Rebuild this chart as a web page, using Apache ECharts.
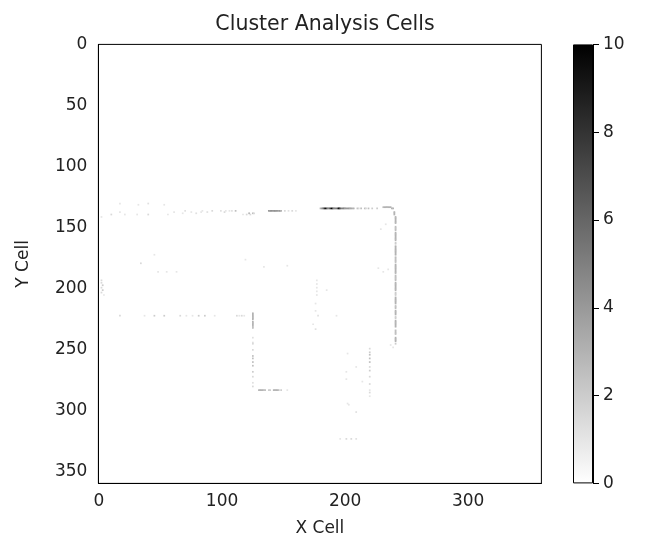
<!DOCTYPE html>
<html>
<head>
<meta charset="utf-8">
<script src="https://cdn.jsdelivr.net/npm/echarts@6/dist/echarts.min.js"></script>
<style>html,body{margin:0;padding:0;background:#fff;}#c{width:647px;height:544px;}</style>
</head>
<body>
<div id="c"></div>
<script>
// ---- data (cell column, cell row, value) ----
const nCells = 360;
const xTickLabels = [0, 100, 200, 300];
const yTickLabels = [0, 50, 100, 150, 200, 250, 300, 350];
const colorbarTicks = [0, 2, 4, 6, 8, 10];
const colorMin = 0, colorMax = 10;

const upperRowDots = [[17,130,1],[32,131,1],[40,130,1.2],[53,131,1]];
const leftRowDots = [[2,141,1],[10,139,1.5],[17,137,1],[21,139,1],[31,139,1],[40,139,1.5],[56,139,1],[61,137,1],[68,138,1],[70,136,1.2],[75,137,1],[79,138,1.2],[83,137,1],[84,136,1],[88,137,1.2],[92,136,1.5],[99,136,1.2],[102,137,1.5],[103,136,1],[106,136,1],[108,136,1.2],[111,136,2.5],[117,139,1],[120,139,1.5],[122,138,3],[123,139,1.5],[125,138,2.5],[126,138,1.5]];
const midSegment = [[138,136,4],[139,136,4],[140,136,4.5],[141,136,4],[142,136,4],[143,136,4.5],[144,136,4],[145,136,4],[146,136,3.5],[147,136,4],[148,136,3],[151,136,1.5],[154,136,1.2],[157,136,1.5],[160,136,1]];
const darkSegment = [[180,134,3],[181,134,4],[182,134,5],[183,134,7],[184,134,10],[185,134,7],[186,134,5],[187,134,5],[188,134,7],[189,134,10],[190,134,7],[191,134,5],[192,134,5],[193,134,5],[194,134,7],[195,134,10],[196,134,7],[197,134,5],[198,134,5],[199,134,5],[200,134,4],[201,134,4],[202,134,4],[203,134,4],[204,134,3.5],[205,134,3.5],[206,134,3],[207,134,3]];
const farSegment = [[210,134,2.5],[211,134,1.5],[213,134,2.5],[216,134,2.5],[217,134,1.5],[219,134,2.5],[222,134,2],[226,134,2],[231,133,2.5],[232,133,3],[233,133,3],[234,133,3],[235,133,3],[236,133,3],[237,133,3],[238,134,3],[239,134,3]];
const rightVertical = [[240,137,3],[240,138,3],[240,139,3],[241,141,3],[241,142,3],[241,143,3],[241,144,3],[241,145,3],[241,146,3],
  [241,149,2.5],[241,150,2.5],[241,151,2.5],[241,152,2.5],[241,154,3],[241,155,3],[241,156,3],[241,157,3],[241,158,3],[241,159,3],[241,160,3],
  [241,162,2],[241,163,2],[241,165,3],[241,166,3],[241,167,3],[241,168,3],[241,169,3],[241,170,3],[241,171,3],[241,172,3],
  [241,174,2.5],[241,175,2.5],[241,176,2.5],[241,177,2.5],[241,178,2.5],[241,180,3],[241,181,3],[241,182,3],[241,183,3],[241,184,3],[241,185,3],[241,186,3],[241,187,3],
  [241,189,2.5],[241,190,2.5],[241,191,2.5],[241,192,2.5],[241,193,2.5],[241,195,3],[241,196,3],[241,197,3],[241,198,3],[241,199,3],[241,200,3],[241,201,3],
  [241,203,2],[241,204,2],[241,205,2],[241,207,3],[241,208,3],[241,209,3],[241,210,3],[241,211,3],[241,212,3],[241,214,2.5],[241,215,2.5],[241,216,2.5],
  [241,218,3],[241,219,3],[241,220,3],[241,221,3],[241,223,2],[241,224,2],[241,226,3],[241,227,3],[241,228,3],[241,229,3],[241,230,3],[241,231,3],
  [241,234,2.5],[241,235,2.5],[241,236,2.5],[241,237,2.5],[241,240,3],[241,241,3],[241,242,3],[241,243,3],[241,245,2]];
const lowerRowDots = [[17,222,1.5],[37,222,1],[45,222,2],[53,222,2],[66,222,1.5],[71,222,1],[76,222,1],[81,222,2],[86,222,2],[94,222,1],[112,222,1.5],[114,222,1],[116,222,1.5],[118,222,1]];
const midVertical = [[125,220,3],[125,221,3],[125,222,3],[125,223,3],[125,224,3],[125,225,3],[125,227,3],[125,228,3],[125,229,3],[125,230,3],[125,231,2.5],[125,232,2.5],
  [125,240,1.2],[125,244,1.2],[125,245,1.5],[125,250,1.5],[125,255,2.5],[125,257,2.5],[125,260,2.5],[125,263,2.5],[125,268,2],[125,272,1.5],[125,277,1.2],[125,280,1.5]];
const bottomRow = [[130,283,3],[131,283,3],[132,283,3],[133,283,3],[134,283,2.5],[135,283,2.5],[138,283,2],[139,283,2],[142,283,3],[143,283,3],[144,283,3],[145,283,3],[146,283,2.5],[148,283,2],[153,283,1]];
const innerVertical = [[220,249,1.5],[220,252,2],[220,254,2.5],[220,257,2.5],[220,260,2.5],[220,264,1.5],[220,267,2],[220,272,1.5],[220,278,1.5],[220,283,1],[220,285,1.5],[220,288,1]];
const leftEdge = [[2,193,1.5],[2,195,1.5],[3,197,2],[2,199,1.5],[3,201,2],[2,203,1.5],[4,205,1]];
const scattered = [[177,193,1],[177,196,1],[177,199,1],[177,202,1],[177,205,1],[185,201,1],[176,212,1],[176,218,1],[178,222,1.2],[193,222,1],[174,229,1],[176,233,1.2],[202,253,1],[209,264,1],[201,268,1],[201,274,1],[214,276,1],[202,294,1],[203,295,1],[209,301,1.2],[196,323,1],[201,323,1.5],[205,323,1.5],[209,323,1.2],[34,179,1.5],[45,172,1],[48,186,1],[55,186,1],[63,186,1],[119,176,1],[134,182,1],[153,181,1],[229,151,1],[233,147,1],[227,183,1],[231,186,1],[235,184,1],[237,246,1],[239,248,1]];

// ---- build ----
const cells = [].concat(upperRowDots, leftRowDots, midSegment, darkSegment, farSegment, rightVertical,
  lowerRowDots, midVertical, bottomRow, innerVertical, leftEdge, scattered);
const cats = [];
for (let i = 0; i < nCells; i++) cats.push(String(i));
const xTickSet = new Set(xTickLabels.map(String));
const yTickSet = new Set(yTickLabels.map(String));

const font = 'DejaVu Sans';
const txt = '#222';
const fs = 17;
const chart = echarts.init(document.getElementById('c'), null, {renderer: 'canvas'});
chart.setOption({
  backgroundColor: '#fff',
  animation: false,
  title: {text: 'Cluster Analysis Cells', left: 320, top: 9, textAlign: 'center',
    textStyle: {fontFamily: font, fontSize: 20.5, fontWeight: 'normal', color: txt}},
  grid: [
    {left: 98.4, top: 44.4, width: 443, height: 439, show: true, borderColor: '#000', borderWidth: 1, backgroundColor: '#fff'},
    {left: 573, top: 44.4, width: 20, height: 439, show: false}
  ],
  xAxis: [
    {type: 'category', data: cats, gridIndex: 0, boundaryGap: true, position: 'bottom',
      name: 'X Cell', nameLocation: 'middle', nameGap: 37,
      nameTextStyle: {fontFamily: font, fontSize: fs, color: txt},
      axisLine: {lineStyle: {color: '#000'}},
      axisTick: {alignWithLabel: true, length: 6, interval: (i, v) => xTickSet.has(v), lineStyle: {color: '#000'}},
      axisLabel: {interval: (i, v) => xTickSet.has(v), margin: 10, fontFamily: font, fontSize: fs, color: txt},
      splitLine: {show: false}},
    {type: 'category', data: ['cb'], gridIndex: 1, show: false}
  ],
  yAxis: [
    {type: 'category', data: cats, gridIndex: 0, inverse: true, boundaryGap: true, position: 'left',
      name: 'Y Cell', nameLocation: 'middle', nameGap: 66, nameRotate: 90,
      nameTextStyle: {fontFamily: font, fontSize: fs, color: txt},
      axisLine: {lineStyle: {color: '#000'}},
      axisTick: {alignWithLabel: true, length: 6, interval: (i, v) => yTickSet.has(v), lineStyle: {color: '#000'}},
      axisLabel: {interval: (i, v) => yTickSet.has(v), margin: 11, fontFamily: font, fontSize: fs, color: txt},
      splitLine: {show: false}},
    {type: 'value', gridIndex: 1, min: colorMin, max: colorMax, interval: 2, position: 'right',
      axisLine: {show: true, lineStyle: {color: '#000'}},
      axisTick: {show: true, length: 6, lineStyle: {color: '#000'}},
      axisLabel: {margin: 10, fontFamily: font, fontSize: fs, color: txt,
        formatter: v => colorbarTicks.indexOf(v) >= 0 ? String(v) : ''},
      splitLine: {show: false}}
  ],
  visualMap: {show: false, type: 'continuous', min: colorMin, max: colorMax, seriesIndex: 0,
    inRange: {color: ['#ffffff', '#000000']}},
  series: [
    {type: 'heatmap', xAxisIndex: 0, yAxisIndex: 0, data: cells, itemStyle: {borderWidth: 0}, emphasis: {disabled: true}},
    {type: 'bar', xAxisIndex: 1, yAxisIndex: 1, data: [colorMax], barWidth: '100%', silent: true,
      itemStyle: {borderColor: '#000', borderWidth: 1,
        color: new echarts.graphic.LinearGradient(0, 0, 0, 1, [{offset: 0, color: '#000000'}, {offset: 1, color: '#ffffff'}])}}
  ]
});
</script>
</body>
</html>
